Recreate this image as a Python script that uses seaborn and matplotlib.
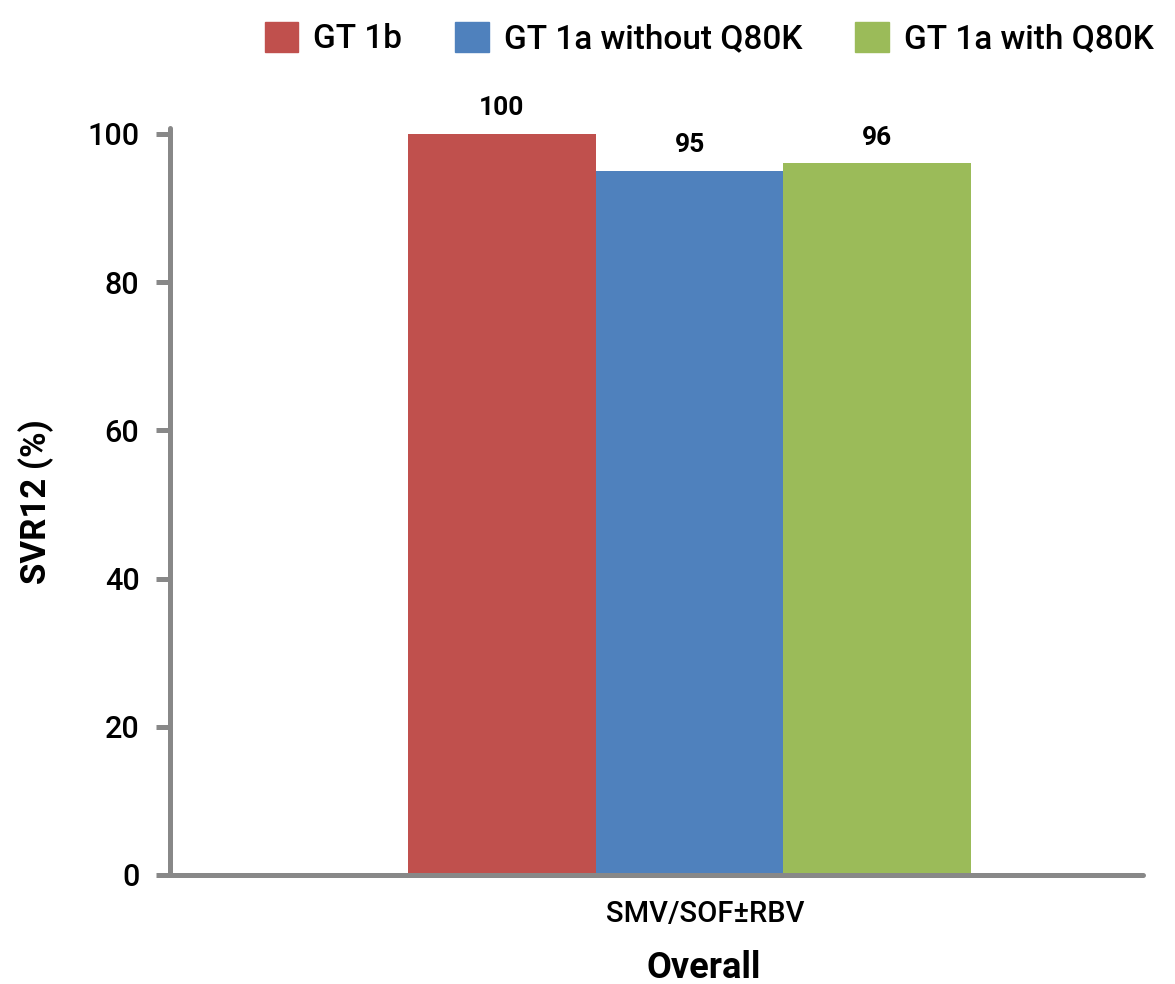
import matplotlib
matplotlib.use("Agg")
import matplotlib.pyplot as plt
import matplotlib.transforms as mtransforms
import seaborn as sns
import pandas as pd

categories = ["SMV/SOF±RBV"]
groups = ["GT 1b", "GT 1a without Q80K", "GT 1a with Q80K"]
values = [100, 95, 96]
colors = ["#C0504D", "#4F81BD", "#9BBB59"]
y_ticks = [0, 20, 40, 60, 80, 100]

sns.set_theme(style="white")
plt.rcParams["font.family"] = ["Roboto", "DejaVu Sans"]
plt.rcParams["text.color"] = "black"
plt.rcParams["axes.labelcolor"] = "black"
plt.rcParams["xtick.color"] = "black"
plt.rcParams["ytick.color"] = "black"
plt.rcParams["font.weight"] = "medium"

df = pd.DataFrame({"cat": categories * len(groups), "group": groups, "val": values})

fig = plt.figure(figsize=(11.75, 9.84), dpi=100)
ax = fig.add_axes([0.1447, 0.1108, 0.8281, 0.7592])

sns.barplot(data=df, x="cat", y="val", hue="group", hue_order=groups,
            palette=colors, width=0.8, saturation=1, ax=ax, legend=False,
            linewidth=0)

for cont in ax.containers:
    ax.bar_label(cont, fmt="%d", padding=10, fontsize=19, fontweight="bold")

ax.set_xlim(-0.738, 0.644)
ax.set_ylim(0, 100.8)
ax.set_yticks(y_ticks)
ax.tick_params(axis="y", labelsize=22, length=10, width=3.6, color="#888888",
               labelcolor="black", direction="out", pad=12, left=True)
ax.tick_params(axis="x", labelsize=21, length=0, pad=18, labelcolor="black")
offset = mtransforms.ScaledTranslation(0.16, 0, fig.dpi_scale_trans)
for lbl in ax.get_xticklabels():
    lbl.set_transform(lbl.get_transform() + offset)
ax.set_ylabel("SVR12 (%)", fontsize=25, fontweight="bold", labelpad=24)
ax.set_xlabel("Overall", fontsize=26, fontweight="bold")
ax.xaxis.set_label_coords(0.548, -0.124)
ax.xaxis.label.set_va("center")

for s in ["top", "right"]:
    ax.spines[s].set_visible(False)
for s in ["left", "bottom"]:
    ax.spines[s].set_color("#888888")
    ax.spines[s].set_linewidth(3.6)
    ax.spines[s].set_capstyle("round")

handles = [plt.Rectangle((0, 0), 1, 1, color=c) for c in colors]
fig.legend(handles, groups, loc="upper right", bbox_to_anchor=(1.0, 1.0),
           ncol=3, frameon=False, fontsize=24, handlelength=1.0,
           handleheight=1.0, handletextpad=0.45, columnspacing=1.6,
           borderaxespad=0.25)

fig.savefig("out.png", dpi=100)
